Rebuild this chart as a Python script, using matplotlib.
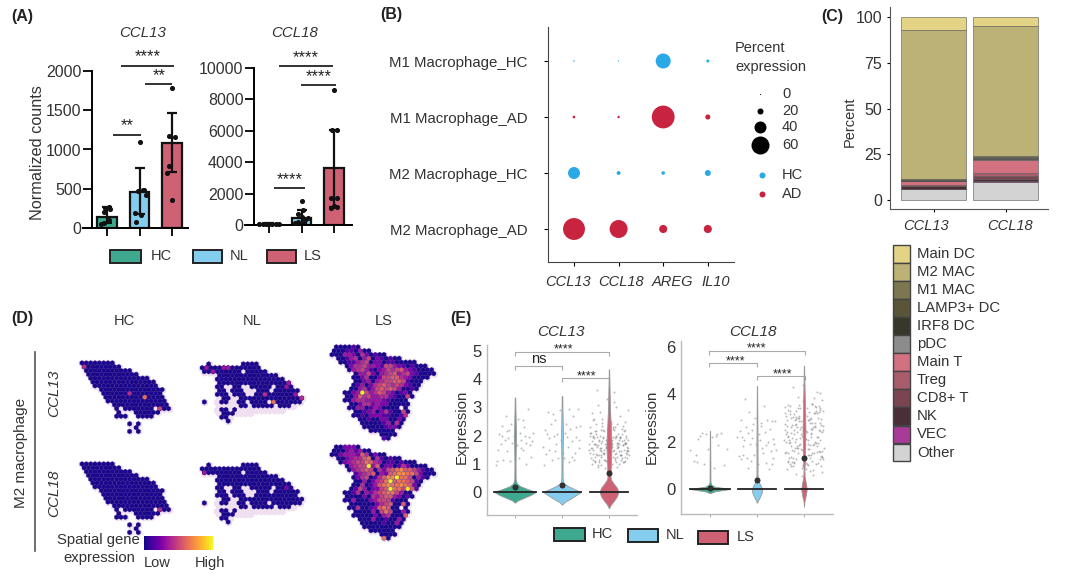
import matplotlib
matplotlib.use('Agg')
import numpy as np
import matplotlib.pyplot as plt
from matplotlib.patches import Rectangle

plt.rcParams['font.family'] = ['Liberation Sans', 'DejaVu Sans']
plt.rcParams['text.color'] = '#333333'
plt.rcParams['axes.labelcolor'] = '#333333'
plt.rcParams['xtick.labelcolor'] = '#333333'
plt.rcParams['ytick.labelcolor'] = '#333333'

W, H = 1080, 576
GROUPS = ['HC', 'NL', 'LS']
GROUP_COLORS = ['#3FA98F', '#85CDEE', '#CE6173']

# (A) bulk counts
A13_MEAN = [140, 460, 1080]
A13_LOW = [60, 180, 710]
A13_HIGH = [270, 760, 1460]
A13_PTS_X = [[-.2, -.1, .05, -.1, .1, -.05, .05], [-.1, .05, -.15, .2, -.05, .1, .15, 0], [0, -.15, -.1, .1, -.1, 0]]
A13_PTS_Y = [[50, 60, 100, 200, 240, 250, 270], [80, 170, 190, 420, 470, 480, 480, 1090], [360, 700, 790, 1160, 1170, 1780]]
A18_MEAN = [80, 450, 3600]
A18_LOW = [40, 100, 1150]
A18_HIGH = [130, 950, 6050]
A18_PTS_X = [[-.3, -.2, -.1, 0, .1, .2, .3], [-.2, -.1, .1, .2, 0, -.1, .05, 0], [-.1, .1, 0, -.1, .1, -.05, .08, 0]]
A18_PTS_Y = [[60, 70, 80, 80, 90, 90, 70], [100, 200, 300, 450, 500, 700, 950, 1500], [1100, 1150, 1200, 1700, 1750, 6050, 6050, 8600]]

# (B) dot plot
B_ROWS = ['M1 Macrophage_HC', 'M1 Macrophage_AD', 'M2 Macrophage_HC', 'M2 Macrophage_AD']
B_GENES = ['CCL13', 'CCL18', 'AREG', 'IL10']
B_PERCENT = [[5, 4, 50, 10], [9, 8, 76, 17], [40, 13, 12, 20], [73, 60, 27, 27]]
B_ROW_COLORS = ['#2BA9E6', '#C8233F', '#2BA9E6', '#C8233F']
B_LEGEND_PCT = [3, 20, 40, 60]
B_LEGEND_LABELS = ['0', '20', '40', '60']

# (C) composition, bottom to top
C_TYPES = ['Other', 'VEC', 'NK', 'CD8+ T', 'Treg', 'Main T', 'pDC', 'IRF8 DC', 'LAMP3+ DC', 'M1 MAC', 'M2 MAC', 'Main DC']
C_COLORS = ['#D3D3D3', '#A93A98', '#4A2E38', '#7A4450', '#A85C6C', '#D27280', '#8C8C8C', '#38382A', '#5A5438', '#7D7750', '#BDB276', '#E3D384']
C_CCL13 = [6, .2, 1.2, .4, .4, 2.2, .1, .6, .3, .2, 81.4, 7]
C_CCL18 = [9.8, .7, 1.0, 1.4, 2.0, 7.2, .1, .8, .5, .4, 71, 5.1]

# (D) spatial maps, one char per spot, '.' is no spot, digit is the colour level
LEVEL_SHADE = [0, .14, .24, .32, .4, .48, .56, .64, .72, .97]
HC_MASK = [
    "########",
    "#########",
    ".###########",
    ".############",
    "..##############",
    "..###############",
    "...###############",
    "....###############",
    ".....##############",
    ".....##############",
    "......##############",
    ".......#############",
    "........#.#######.###",
    "........#...######",
    "........###..####",
    "..........",
    "...........#.#",
    "............#",
    "...........#.#",
]
NL_MASK = [
    "..#.......####",
    "##############",
    ".#########.#####",
    "....##############",
    "....################",
    "....#################",
    "....##..##..#####.####",
    "....##.###...###.######",
    "....###.###..##########",
    ".....##..###############",
    ".#...##..##.####.#######",
    ".........##.#####.###",
    ".....##.#....",
    ".....###",
    ".....##",
    "......#",
]
# pale tissue under the NL spots, it also fills the holes
NL_TISSUE = [
    "..#.......####",
    "##############",
    ".###############",
    "....##############",
    "....################",
    "....#################",
    "....##################",
    "....###################",
    "....###################",
    "....####################",
    ".#..####################",
    "....##################",
    "....################",
    "....########",
    ".....###",
    "......#",
]
LS_CCL13 = [
    ".000010",
    "000110300",
    "0003320420100",
    ".001340350210100",
    "..001134502201100000",
    "...0244533215532101000",
    "....03453102354563210000",
    ".....0335203456345210000",
    ".....002400255664320000",
    ".....0023034556651000",
    ".....0130245654542100",
    "....0034135656530010",
    "...0023953465320120",
    "...0036453344210050",
    "...003443333210000",
    "....00244232200000",
    "....003301320000.0",
    ".....0012302410050",
    ".....0010222110014",
    "......00100220020",
    ".......0000013040",
    ".......000001220",
    ".........000000",
    "...........0000",
    "............10",
]
LS_CCL18 = [
    ".002220",
    "000231300",
    "0023332640200",
    ".002344670410100",
    "..023455764301101000",
    "...0345593602201420000",
    "....03456504256786653100",
    ".....1345603267887752000",
    ".....024501468897750310",
    ".....0030245796776510",
    ".....0040136787787620",
    "....0153022569775961",
    "...0014032456775300",
    "...0000204356632010",
    "...003000235551000",
    "....00000024560060",
    "....004001267600.0",
    ".....0000305750030",
    ".....0000020340006",
    "......00030010030",
    ".......0000010030",
    ".......000000000",
    ".........000000",
    "...........0000",
    "............70",
]
# hot spots on the mostly empty maps: row, column, level
HC13_HOT = [(1, 0, 4), (8, 11, 4), (9, 14, 7), (12, 18, 5)]
HC18_HOT = [(12, 18, 4)]
NL13_HOT = [(1, 1, 3), (2, 3, 3), (1, 5, 3), (1, 6, 3), (6, 20, 3), (5, 20, 3), (8, 15, 4), (8, 22, 3), (9, 23, 4), (10, 17, 7)]
NL18_HOT = [(2, 1, 3), (6, 20, 2)]

# (E) violins, profile is expression level and half width
E13_Y = [[-.38, -.3, -.2, -.1, 0, .1, .2, .3, .45, 1, 2, 3.35],
         [-.45, -.35, -.25, -.12, 0, .1, .2, .32, .5, 1, 2, 3.4],
         [-.58, -.45, -.3, -.15, 0, .15, .3, .45, .6, .75, 1.2, 1.7, 3, 4.35]]
E13_W = [[0, .06, .2, .34, .44, .28, .12, .04, .014, .012, .02, .006],
         [0, .06, .17, .29, .4, .27, .14, .03, .014, .012, .02, .006],
         [0, .04, .11, .17, .2, .17, .1, .04, .03, .035, .045, .055, .02, .004]]
E18_Y = [[-.18, -.1, -.04, 0, .04, .1, .18, .3, 1, 2.45],
         [-.58, -.45, -.3, -.15, 0, .1, .25, .4, .6, 2, 4.35],
         [-.75, -.5, -.25, 0, .25, .5, .8, 1.2, 2.5, 4, 5.2]]
E18_W = [[0, .1, .3, .43, .3, .1, .03, .01, .008, .003],
         [0, .03, .07, .1, .11, .09, .05, .02, .012, .012, .003],
         [0, .012, .04, .06, .04, .015, .01, .018, .03, .015, .003]]
E13_MEDIAN_W = [.44, .4, .4]
E18_MEDIAN_W = [.43, .4, .4]
E13_MEAN = [.18, .25, .68]
E18_MEAN = [.03, .38, 1.3]

E13_HC_X = [-.41, -.36, -.33, -.3, -.27, -.25, -.22, -.2, -.18, -.15, -.12, -.1, -.06, -.02, .04, .08, .1, .13, .16, .18, .21, .24, .27, .3, .33, .36, .38, -.38, -.28, -.16, .12, .2, .32, -.08, .07, .24]
E13_HC_Y = [.95, 1.5, 2.05, 1.7, 2.35, 1.15, 1.85, 2.7, 1.45, 1.9, 2.2, 1.1, 1.75, 2.0, 1.65, 1.2, 2.1, 1.85, 2.55, 1.5, 2.0, 1.75, 2.95, 1.95, 1.25, 1.8, 2.1, 1.1, 2.0, 2.15, 1.55, 2.3, 1.65, 2.4, 2.6, 1.0]
E13_NL_X = [-.4, -.36, -.33, -.3, -.27, -.24, -.21, -.18, -.15, -.12, -.09, -.05, -.02, .03, .06, .09, .12, .15, .18, .21, .24, .27, .3, .33, .36, .39, -.38, -.28, -.19, -.1, .05, .14, .22, .3, .37, -.32, -.14, .1, .26]
E13_NL_Y = [1.6, 2.2, 1.35, 2.85, 1.9, 2.4, 1.15, 2.0, 2.55, 1.7, 1.2, 2.9, 1.85, 1.4, 2.1, 2.4, 1.6, 1.05, 2.25, 1.8, 2.7, 1.4, 1.95, 2.95, 1.55, 2.35, .95, 1.5, 2.75, 2.05, 1.2, 2.95, 1.25, 2.3, 1.85, 2.05, 1.45, 1.95, 1.15]
E13_LS_X = [-.42, -.4, -.38, -.36, -.34, -.32, -.3, -.28, -.26, -.24, -.22, -.2, -.18, -.16, -.14, -.12, -.1, -.08, -.06, -.04, -.02, .02, .04, .06, .08, .1, .12, .14, .16, .18, .2, .22, .24, .26, .28, .3, .32, .34, .36, .38, .4, .42,
            -.41, -.37, -.33, -.29, -.25, -.21, -.17, -.13, -.09, -.05, -.01, .03, .07, .11, .15, .19, .23, .27, .31, .35, .39, -.39, -.35, -.31, -.27, -.23, -.19, -.15, -.11, -.07, -.03, .01, .05, .09, .13, .17, .21, .25, .29, .33, .37, .41,
            -.4, -.34, -.28, -.22, -.16, -.1, -.04, .02, .08, .14, .2, .26, .32, .38, -.36, -.3, -.24, -.18, -.12, -.06, 0, .06, .12, .18, .24, .3, .36, -.26, -.14, .1, .22, .34]
E13_LS_Y = [1.7, 2.3, 1.2, 2.8, 1.5, 1.9, 1.05, 2.4, 1.6, 3.1, 1.3, 2.0, .95, 1.75, 2.6, 1.4, 2.15, .85, 1.85, 3.3, 1.25, 1.55, 2.5, 1.0, 1.95, 2.2, 1.35, 3.0, 1.65, .9, 2.05, 1.45, 2.7, 1.15, 1.8, 2.35, 1.5, 1.1, 2.0, 1.6, 2.9, 1.3,
            1.4, 1.8, 2.55, 1.25, 1.95, 1.05, 1.55, 2.2, 1.7, 1.1, 2.75, 1.35, 1.85, 3.2, 1.05, 1.6, 1.9, 1.2, 2.15, 1.7, 1.45, 2.1, 1.35, 1.7, 2.05, .9, 1.5, 2.45, 1.15, 1.6, 2.0, 1.45, 1.75, 2.3, 1.2, 1.55, 1.85, 1.3, 1.65, 2.5, 1.75, 1.55,
            2.0, 1.15, 1.65, 1.85, 1.25, 1.5, 2.25, 1.85, 1.25, 1.95, 1.6, 1.3, 1.85, 1.2, 1.55, 2.15, .95, 1.45, 1.9, 1.55, 2.05, 1.7, 1.15, 2.4, 1.95, 1.05, 1.4, 3.6, 1.8, 3.55, 1.0, 1.75]

E18_HC_X = [-.42, -.35, -.3, -.27, -.22, -.18, -.12, -.08, -.05, .05, .09, .14, .18, .24, .3, .36, -.25, .12]
E18_HC_Y = [1.65, 1.2, 1.45, 1.15, 2.25, 2.35, 1.05, 2.3, 1.7, 2.2, .9, 2.3, 1.85, 2.35, 1.0, 1.7, 2.1, 2.25]
E18_NL_X = [-.42, -.39, -.37, -.35, -.33, -.31, -.29, -.27, -.25, -.23, -.21, -.19, -.17, -.15, -.13, -.11, -.09, -.07, -.05, -.03, .03, .05, .07, .09, .11, .13, .15, .17, .19, .21, .23, .25, .27, .29, .31, .33, .35, .37, .39, .41, -.3, -.2, -.1, .08, .2, .32]
E18_NL_Y = [2.2, 1.4, 2.45, 1.25, 2.9, 2.2, 1.45, 2.05, 3.8, 2.6, 1.3, 2.35, 3.25, 1.9, 1.2, 2.5, 2.75, 1.45, 3.0, 1.9, 1.05, 2.3, 2.05, 2.8, 1.75, 1.5, 3.5, 2.4, 1.1, 2.9, 2.0, .85, 2.55, 1.6, 2.85, 2.1, 1.3, 1.9, 2.85, 1.65, 1.8, .9, 2.15, 2.65, 1.85, 1.05]
E18_LS_X = [-.41, -.4, -.38, -.36, -.34, -.32, -.3, -.28, -.26, -.24, -.22, -.2, -.18, -.16, -.14, -.12, -.1, -.08, -.06, -.04, -.02, .02, .04, .06, .08, .1, .12, .14, .16, .18, .2, .22, .24, .26, .28, .3, .32, .34, .36, .38, .4, .42,
            -.39, -.37, -.33, -.29, -.25, -.21, -.17, -.13, -.09, -.05, -.01, .03, .07, .11, .15, .19, .23, .27, .31, .35, .39, -.41, -.35, -.31, -.27, -.23, -.19, -.15, -.11, -.07, -.03, .01, .05, .09, .13, .17, .21, .25, .29, .33, .37, .41,
            -.4, -.34, -.28, -.22, -.16, -.1, -.04, .02, .08, .14, .2, .26, .32, .38, -.36, -.3, -.24, -.18, -.12, -.06, 0, .06, .12, .18, .24, .3, .36, -.39, -.33, -.27, -.21, -.15, -.09, -.03, .03, .09, .15, .21, .27, .33, .39, -.25, -.13, .11, .23, .35]
E18_LS_Y = [2.5, 1.5, 3.1, .85, 2.2, 1.3, 3.5, 1.8, 2.7, 4.3, 1.1, 2.0, 3.3, .65, 2.4, 1.5, 3.0, 1.9, 2.6, .9, 3.7, 1.3, 2.1, 3.4, 1.7, 2.9, .75, 2.3, 3.6, 1.2, 2.6, 1.9, 3.2, 1.05, 2.2, 3.0, 1.6, 2.8, .95, 2.4, 3.3, 1.75,
            2.0, 2.9, 1.15, 3.3, 1.65, 2.5, 1.25, 3.4, 2.15, .55, 2.75, 1.85, 3.1, 1.45, 2.35, .8, 2.65, 1.55, 3.25, 2.05, 1.35, 2.75, 3.35, 1.95, 2.6, .95, 2.9, 1.75, 3.55, 2.3, 1.4, 3.05, 2.45, 1.0, 1.85, 2.8, 1.5, 3.45, 2.2, 1.25, 2.95, 2.5,
            3.2, 1.5, 2.35, 1.15, 2.95, 1.85, 2.25, 3.15, 1.45, 2.55, .6, 1.95, 3.5, 1.35, 2.65, 1.05, 3.05, 2.1, 1.75, 2.85, 1.6, 2.4, 1.3, 3.6, 2.0, 1.1, 2.7, 1.55, 2.25, .95, 3.15, 1.8, 2.55, 4.4, 1.35, 2.05, 3.0, 3.85, 4.1, 4.05, 3.75, 2.15, 3.9, 1.7, 2.8, 3.4]

# more of the dense LS cloud
E_LS_X2 = [-.39, -.33, -.27, -.21, -.15, -.09, -.03, .03, .09, .15,
           .21, .27, .33, .39, -.35, -.29, -.23, -.17, -.11, -.05,
           .01, .07, .13, .19, .25, .31, .37, -.41, -.31, -.25,
           -.19, -.13, -.07, 0, .05, .11, .17, .23, .29, .35,
           .41, -.37, -.3, -.2, -.1, .04, .14, .24, .34, .4,
           -.42, -.28, -.16, -.02, .08, .18, .28, .38, -.22, .12]
E13_LS_Y2 = [1.55, 2.0, 1.35, 1.8, 2.35, 1.15, 1.6, 1.9, 2.25, 1.4,
             1.7, 2.05, 1.25, 1.5, 1.95, 1.1, 1.65, 2.2, 1.4, 1.85,
             1.2, 1.6, 2.3, 1.75, 1.45, 1.05, 1.9, 2.1, 2.6, 1.3,
             1.55, 1.95, 1.1, 1.75, 2.4, 1.5, 1.25, 1.95, 1.65, 2.2,
             1.45, 1.0, 1.7, 2.85, 1.35, 1.6, 2.0, 1.3, 1.75, 1.85,
             1.5, 2.15, 1.3, 1.0, 1.45, 1.75, 2.25, 1.35, 1.15, 1.9]
E18_LS_Y2 = [2.3, 1.2, 3.0, 1.6, 2.6, 3.4, 1.0, 2.1, 2.9, 1.45,
             3.2, 1.8, 2.45, .7, 3.55, 2.0, 1.3, 2.75, 3.1, 1.65,
             2.35, 1.05, 2.95, 1.85, 3.3, 2.5, 1.4, 3.45, 2.05, 1.15,
             2.7, 3.0, 1.7, 2.25, .85, 3.25, 1.5, 2.6, 1.95, 3.35,
             1.25, 2.4, 3.15, 1.75, 2.85, 1.1, 2.2, 3.5, 1.55, 2.65,
             2.05, 1.35, 3.05, .95, 1.9, 2.55, 3.2, 1.6, 2.3, 2.8]


def px_axes(left, top, right, bottom):
    return fig.add_axes([left / W, 1 - bottom / H, (right - left) / W, (bottom - top) / H])


def sig_bar(x0, x1, y, label, tx, ty, drop=0, color='#222222', lw=1.3, size=12):
    ov.plot([x0, x0, x1, x1], [y + drop, y, y, y + drop], color=color, lw=lw, solid_capstyle='butt')
    ov.text(tx, ty, label, ha='center', va='center', fontsize=size, color='#222222')


def swatch(x0, x1, y0, y1, color, lw=1.4, edge='#222222'):
    ov.add_patch(Rectangle((x0, y0), x1 - x0, y1 - y0, facecolor=color, edgecolor=edge, lw=lw))


def bar_panel(ax, means, lows, highs, pts_x, pts_y, ymax, ticks):
    x = np.arange(3)
    ax.bar(x, means, width=0.6, color=GROUP_COLORS, edgecolor='#111111', lw=1.6, zorder=2)
    ax.errorbar(x, means, yerr=[np.array(means) - np.array(lows), np.array(highs) - np.array(means)],
                fmt='none', ecolor='#111111', elinewidth=1.6, capsize=3.6, capthick=1.6, zorder=3)
    for i in range(3):
        ax.scatter(i + np.array(pts_x[i]), pts_y[i], s=7, color='#111111', zorder=4, clip_on=False)
    ax.set_ylim(0, ymax)
    ax.set_yticks(ticks)
    ax.set_xticks(x)
    ax.set_xticklabels([])
    ax.tick_params(axis='y', length=6.5, width=1.3, labelsize=11.5, pad=1)
    ax.tick_params(axis='x', length=5.5, width=1.3)
    for s in ['top', 'right']:
        ax.spines[s].set_visible(False)
    for s in ['left', 'bottom']:
        ax.spines[s].set_linewidth(1.4)
    ax.patch.set_alpha(0)


def spot_xy(r, c, x0, y0):
    return x0 + 4.33 * (c + 0.5 * (r % 2)), y0 + 3.8 * r


def hex_map(rows, x0, y0, hot=None, tissue=None):
    xs, ys, lv = [], [], []
    for r, line in enumerate(rows):
        for c, ch in enumerate(line):
            if ch == '.':
                continue
            px, py = spot_xy(r, c, x0, y0)
            xs.append(px)
            ys.append(py)
            lv.append(int(ch) if ch.isdigit() else 0)
    for r, c, level in (hot or []):
        px, py = spot_xy(r, c, x0, y0)
        xs.append(px)
        ys.append(py)
        lv.append(level)
    # pale tissue halo under the spots
    hx, hy = list(xs), list(ys)
    for r, line in enumerate(tissue or []):
        for c, ch in enumerate(line):
            if ch != '.':
                px, py = spot_xy(r, c, x0, y0)
                hx.append(px)
                hy.append(py)
    ov.scatter(hx, hy, s=34, color='#F0DFF0', marker='h', lw=0, zorder=1)
    lv = np.array(lv)
    order = np.argsort(lv)
    ov.scatter(np.array(xs)[order], np.array(ys)[order], s=13, c=np.array(LEVEL_SHADE)[lv[order]],
               cmap='plasma', vmin=-0.02, vmax=1, marker='h', edgecolors='#1A1078', linewidths=0.15, zorder=2)


def violin_panel(ax, ys, ws, medw, means, jit, ylim, ticks):
    for i in range(3):
        y = np.array(ys[i])
        w = np.array(ws[i])
        ax.scatter(i + np.array(jit[i][0]), jit[i][1], s=2, color='#777777', alpha=0.5, lw=0, zorder=1)
        ax.fill_betweenx(y, i - w, i + w, facecolor=GROUP_COLORS[i], edgecolor='#999999', lw=0.6, zorder=2)
        ax.plot([i - medw[i], i + medw[i]], [0, 0], color='#222222', lw=1.3, zorder=3)
        ax.scatter([i], [means[i]], s=14, facecolor='#333333', edgecolor='#222222', lw=0.5, zorder=4)
    ax.set_ylim(*ylim)
    ax.set_yticks(ticks)
    ax.set_xticks(range(3))
    ax.set_xticklabels([])
    ax.tick_params(axis='y', length=0, labelsize=12, pad=4)
    ax.tick_params(axis='x', length=2, width=0.6, color='#999999')
    for s in ['top', 'right']:
        ax.spines[s].set_visible(False)
    for s in ['left', 'bottom']:
        ax.spines[s].set_color('#BBBBBB')
        ax.spines[s].set_linewidth(1.0)
    ax.patch.set_alpha(0)


fig = plt.figure(figsize=(W / 100, H / 100), dpi=100)
ov = fig.add_axes([0, 0, 1, 1])
ov.set_xlim(0, W)
ov.set_ylim(H, 0)
ov.axis('off')

for lab, x, y in [('(A)', 11, 16), ('(B)', 380, 15), ('(C)', 821, 16), ('(D)', 11, 318), ('(E)', 450, 318)]:
    ov.text(x, y, lab, fontsize=11.5, fontweight='bold', color='#222222', va='center')

# panel A
ax = px_axes(83, 71, 188, 228)
ax.set_xlim((83 - 107) / 32.5, (188 - 107) / 32.5)
ax.spines['left'].set_position(('data', (92 - 107) / 32.5))
bar_panel(ax, A13_MEAN, A13_LOW, A13_HIGH, A13_PTS_X, A13_PTS_Y, 2000, [0, 500, 1000, 1500, 2000])
ax = px_axes(245, 68, 352, 225)
ax.set_xlim((245 - 269) / 32.5, (352 - 269) / 32.5)
ax.spines['left'].set_position(('data', (254 - 269) / 32.5))
bar_panel(ax, A18_MEAN, A18_LOW, A18_HIGH, A18_PTS_X, A18_PTS_Y, 10000, [0, 2000, 4000, 6000, 8000, 10000])

ov.text(38, 153, 'Normalized counts', rotation=90, fontsize=11.7, ha='center', va='center')
ov.text(143, 33, 'CCL13', style='italic', fontsize=10.8, ha='center', va='center')
ov.text(295, 33, 'CCL18', style='italic', fontsize=10.8, ha='center', va='center')
sig_bar(121, 174, 66, '****', 148, 57)
sig_bar(145, 172, 84, '**', 159, 76)
sig_bar(113, 141, 135, '**', 127, 126)
sig_bar(279, 333, 66, '****', 306, 58)
sig_bar(301, 336, 85, '****', 319, 77)
sig_bar(274, 305, 188, '****', 290, 180)
for (x0, x1, tx), g, c in zip([(110, 141, 151), (193, 222, 230), (267, 296, 304)], GROUPS, GROUP_COLORS):
    swatch(x0, x1, 250, 263, c)
    ov.text(tx, 256, g, fontsize=10.5, va='center')

# panel B
ax = px_axes(548, 27, 734, 262)
for r, row in enumerate(B_PERCENT):
    d = 0.3 * np.array(row) * 0.72
    ax.scatter(range(4), [r] * 4, s=d ** 2, color=B_ROW_COLORS[r], lw=0)
ax.set_xlim((548 - 574) / 44.6, (734 - 574) / 44.6)
ax.set_ylim((262 - 61) / 56, (27 - 61) / 56)
ax.set_xticks(range(4))
ax.set_xticklabels([])
ax.set_yticks(range(4))
ax.set_yticklabels(B_ROWS, fontsize=10.8)
ax.tick_params(axis='y', length=3, width=0.8, pad=12)
ax.tick_params(axis='x', length=3, width=0.8)
for s in ['top', 'right']:
    ax.spines[s].set_visible(False)
for s in ['left', 'bottom']:
    ax.spines[s].set_color('#444444')
for g, x in zip(B_GENES, [568, 621, 672, 716]):
    ov.text(x, 282, g, style='italic', fontsize=10.5, ha='center', va='center')
ov.text(735, 48, 'Percent', fontsize=10.5, va='center')
ov.text(735, 67, 'expression', fontsize=10.5, va='center')
for p, lab, y in zip(B_LEGEND_PCT, B_LEGEND_LABELS, [94, 111, 127, 145]):
    ov.scatter([760], [y], s=(0.3 * p * 0.72) ** 2, color='black', lw=0)
    ov.text(782, y, lab, fontsize=10.5, va='center')
for g, c, y in [('HC', '#2BA9E6', 175), ('AD', '#C8233F', 194)]:
    ov.scatter([762], [y], s=(6 * 0.72) ** 2, color=c, lw=0)
    ov.text(782, y, g, fontsize=10.5, va='center')

# panel C
ax = px_axes(890, 7, 1048, 209)
bottom = np.zeros(2)
for t, col, a, b in zip(C_TYPES, C_COLORS, C_CCL13, C_CCL18):
    vals = np.array([a, b])
    ax.bar([0, 1], vals, bottom=bottom, width=0.9, color=col, edgecolor='#555555', lw=0.4)
    bottom += vals
ax.set_xlim((890 - 933.5) / 72, (1048 - 933.5) / 72)
ax.set_ylim(-9 / 1.83, 105.5)
ax.set_yticks([0, 25, 50, 75, 100])
ax.set_xticks([0, 1])
ax.set_xticklabels([])
ax.tick_params(axis='y', length=2.5, width=0.8, labelsize=11.5, pad=3)
ax.tick_params(axis='x', length=2, width=0.8)
for s in ['top', 'right']:
    ax.spines[s].set_visible(False)
for s in ['left', 'bottom']:
    ax.spines[s].set_color('#555555')
ov.text(850, 122, 'Percent', rotation=90, fontsize=10.5, ha='center', va='center')
ov.text(926, 226, 'CCL13', style='italic', fontsize=10.5, ha='center', va='center')
ov.text(1010, 226, 'CCL18', style='italic', fontsize=10.5, ha='center', va='center')
for i, (t, col) in enumerate(zip(C_TYPES[::-1], C_COLORS[::-1])):
    y = 245 + 18.05 * i
    swatch(893, 910, y, y + 17.5, col, lw=1.0, edge='#444444')
    ov.text(917, y + 9, t, fontsize=10.7, va='center')

# panel D
hex_map(HC_MASK, 82, 363, HC13_HOT)
hex_map(HC_MASK, 82, 464, HC18_HOT)
hex_map(NL_MASK, 200, 364, NL13_HOT, NL_TISSUE)
hex_map(NL_MASK, 200, 465, NL18_HOT, NL_TISSUE)
hex_map(LS_CCL13, 332, 347)
hex_map(LS_CCL18, 332, 447)
for g, x in zip(GROUPS, [124, 252, 384]):
    ov.text(x, 321, g, fontsize=10.5, ha='center', va='center')
ov.text(54, 393, 'CCL13', rotation=90, style='italic', fontsize=11, ha='center', va='center')
ov.text(54, 493, 'CCL18', rotation=90, style='italic', fontsize=11, ha='center', va='center')
ov.text(21, 453, 'M2 macrophage', rotation=90, fontsize=11, ha='center', va='center')
ov.plot([35, 35], [352, 551], color='#555555', lw=1.2)
ov.text(140, 540, 'Spatial gene', fontsize=10.7, ha='right', va='center')
ov.text(135, 558, 'expression', fontsize=10.7, ha='right', va='center')
cax = px_axes(144, 536, 213, 550)
cax.imshow(np.linspace(0, 1, 128)[None, :], cmap='plasma', aspect='auto')
cax.axis('off')
ov.text(144, 563, 'Low', fontsize=10.5, va='center')
ov.text(195, 563, 'High', fontsize=10.5, va='center')

# panel E
ax = px_axes(487, 345, 637, 515)
ax.set_xlim(-28 / 47, 122 / 47)
violin_panel(ax, E13_Y, E13_W, E13_MEDIAN_W, E13_MEAN,
             [(E13_HC_X, E13_HC_Y), (E13_NL_X, E13_NL_Y), (E13_LS_X + E_LS_X2, E13_LS_Y + E13_LS_Y2)],
             (-23 / 28.2, 147 / 28.2), [0, 1, 2, 3, 4, 5])
ax = px_axes(681, 341, 833, 514)
ax.set_xlim(-29 / 47, 123 / 47)
violin_panel(ax, E18_Y, E18_W, E18_MEDIAN_W, E18_MEAN,
             [(E18_HC_X, E18_HC_Y), (E18_NL_X, E18_NL_Y), (E18_LS_X + E_LS_X2, E18_LS_Y + E18_LS_Y2)],
             (-25 / 23.7, 148 / 23.7), [0, 2, 4, 6])
ov.text(462, 427, 'Expression', rotation=90, fontsize=10.8, ha='center', va='center')
ov.text(652, 427, 'Expression', rotation=90, fontsize=10.8, ha='center', va='center')
ov.text(561, 332, 'CCL13', style='italic', fontsize=11, ha='center', va='center')
ov.text(753, 332, 'CCL18', style='italic', fontsize=11, ha='center', va='center')
gray = '#AAAAAA'
sig_bar(515, 609, 352, '****', 563, 349, drop=4, color=gray, lw=0.8, size=9)
sig_bar(515, 562, 366, 'ns', 539, 359, drop=4, color=gray, lw=0.8, size=10.5)
sig_bar(562, 609, 378, '****', 586, 376, drop=4, color=gray, lw=0.8, size=9)
sig_bar(709, 805, 351, '****', 756, 348, drop=4, color=gray, lw=0.8, size=9)
sig_bar(709, 757, 363, '****', 735, 361, drop=4, color=gray, lw=0.8, size=9)
sig_bar(757, 805, 376, '****', 782, 374, drop=4, color=gray, lw=0.8, size=9)
for (x0, x1, y0, tx), g, c in zip([(554, 585, 528, 592), (628, 658, 529, 666), (698, 728, 531, 737)], GROUPS, GROUP_COLORS):
    swatch(x0, x1, y0, y0 + 13, c)
    ov.text(tx, y0 + 6, g, fontsize=10.5, va='center')

fig.savefig('out.png', dpi=100)
